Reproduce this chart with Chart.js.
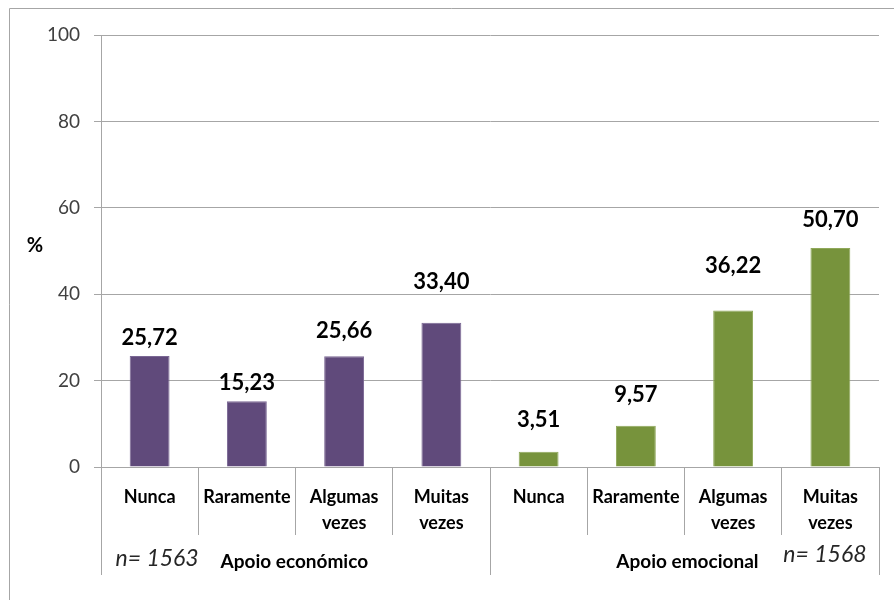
<!DOCTYPE html>
<html>
<head>
<meta charset="utf-8">
<script src="https://cdn.jsdelivr.net/npm/chart.js@4/dist/chart.umd.min.js"></script>
<style>
  body { margin: 0; background: #fff; }
  #wrap { width: 894px; height: 600px; }
</style>
</head>
<body>
<div id="wrap"><canvas id="chart" width="894" height="600"></canvas></div>
<script>
// Chart data
const categories = [['Nunca'], ['Raramente'], ['Algumas', 'vezes'], ['Muitas', 'vezes']];
const economicValues = [25.72, 15.23, 25.66, 33.40];
const emotionalValues = [3.51, 9.57, 36.22, 50.70];
const groupLabels = ['Apoio económico', 'Apoio emocional'];
const sampleSizes = ['n= 1563', 'n= 1568'];
const yTicks = [0, 20, 40, 60, 80, 100];

// Styling: how far each value label sits above its bar (label centre to bar top, px)
const labelLift = [18, 18, 25, 41, 32, 31, 45, 28];

const FONT = 'Lato, "Open Sans", sans-serif';
const PURPLE = '#604a7b';
const GREEN = '#77933c';
const LINE = '#a6a6a6';

const labels = categories.concat(categories);
const n = categories.length;
const economicData = economicValues.concat(new Array(n).fill(null));
const emotionalData = new Array(n).fill(null).concat(emotionalValues);

// Format number with comma decimal separator
function fmt(v) {
  return v.toFixed(2).replace('.', ',');
}

// Frame, % label, value labels, group separators and group captions
const decorations = {
  id: 'decorations',
  beforeDraw(chart) {
    const ctx = chart.ctx;
    ctx.save();
    ctx.fillStyle = '#fff';
    ctx.fillRect(0, 0, chart.width, chart.height);
    ctx.strokeStyle = LINE;
    ctx.lineWidth = 1;
    ctx.beginPath();
    ctx.moveTo(9.5, chart.height);
    ctx.lineTo(9.5, 8.5);
    ctx.lineTo(chart.width, 8.5);
    ctx.stroke();
    ctx.restore();
  },
  afterDraw(chart) {
    const ctx = chart.ctx;
    const x = chart.scales.x;
    const area = chart.chartArea;
    ctx.save();

    // % label
    ctx.fillStyle = '#000';
    ctx.font = 'bold 20px ' + FONT;
    ctx.textAlign = 'center';
    ctx.textBaseline = 'middle';
    ctx.fillText('%', 35, 246);

    // value labels above bars
    ctx.font = 'bold 22px ' + FONT;
    chart.data.datasets.forEach((ds, di) => {
      const meta = chart.getDatasetMeta(di);
      meta.data.forEach((bar, i) => {
        if (ds.data[i] == null) return;
        ctx.fillText(fmt(ds.data[i]), bar.x, bar.y - labelLift[i]);
      });
    });

    // long separators at the group edges
    const step = x.getPixelForValue(1) - x.getPixelForValue(0);
    const edges = [0, n, 2 * n].map(i => Math.round(x.getPixelForValue(i) - step / 2) + 0.5);
    ctx.strokeStyle = LINE;
    ctx.lineWidth = 1;
    ctx.beginPath();
    edges.forEach(px => {
      ctx.moveTo(px, area.bottom);
      ctx.lineTo(px, 575);
    });
    ctx.stroke();

    // group captions
    const capY = 561;
    ctx.fillStyle = '#000';
    ctx.font = 'bold 19px ' + FONT;
    ctx.textAlign = 'left';
    ctx.fillText(groupLabels[0], edges[0] + 119, capY + 1);
    ctx.textAlign = 'right';
    ctx.fillText(groupLabels[1], edges[2] - 121, capY + 1);

    ctx.fillStyle = '#262626';
    ctx.font = 'italic 23px ' + FONT;
    ctx.textAlign = 'left';
    ctx.fillText(sampleSizes[0], edges[0] + 14, capY - 2);
    ctx.textAlign = 'right';
    ctx.fillText(sampleSizes[1], edges[2] - 13, capY - 6);

    ctx.restore();
  }
};

new Chart(document.getElementById('chart'), {
  type: 'bar',
  data: {
    labels: labels,
    datasets: [
      {
        label: groupLabels[0],
        data: economicData,
        backgroundColor: PURPLE,
        borderColor: '#7a6794',
        borderWidth: 1,
        categoryPercentage: 1,
        barPercentage: 0.41
      },
      {
        label: groupLabels[1],
        data: emotionalData,
        backgroundColor: GREEN,
        borderColor: '#8fa85a',
        borderWidth: 1,
        categoryPercentage: 1,
        barPercentage: 0.41
      }
    ]
  },
  options: {
    responsive: false,
    animation: false,
    layout: { padding: { top: 35, right: 15, left: 0, bottom: 0 } },
    plugins: {
      legend: { display: false },
      tooltip: { enabled: false }
    },
    scales: {
      x: {
        stacked: true,
        offset: true,
        grid: {
          offset: true,
          drawOnChartArea: false,
          color: LINE,
          tickLength: 68
        },
        border: { color: LINE },
        ticks: {
          color: '#000',
          font: { family: FONT, size: 18, weight: 'bold', lineHeight: 1.4 },
          padding: -50,
          maxRotation: 0,
          autoSkip: false
        },
        afterFit(scale) { scale.height = 133; }
      },
      y: {
        stacked: true,
        min: 0,
        max: 100,
        afterBuildTicks(scale) { scale.ticks = yTicks.map(v => ({ value: v })); },
        grid: { color: LINE, tickLength: 7 },
        border: { color: LINE },
        ticks: {
          color: '#404040',
          font: { family: FONT, size: 19 },
          padding: 14
        },
        afterFit(scale) { scale.width = 101; }
      }
    }
  },
  plugins: [decorations]
});
</script>
</body>
</html>
